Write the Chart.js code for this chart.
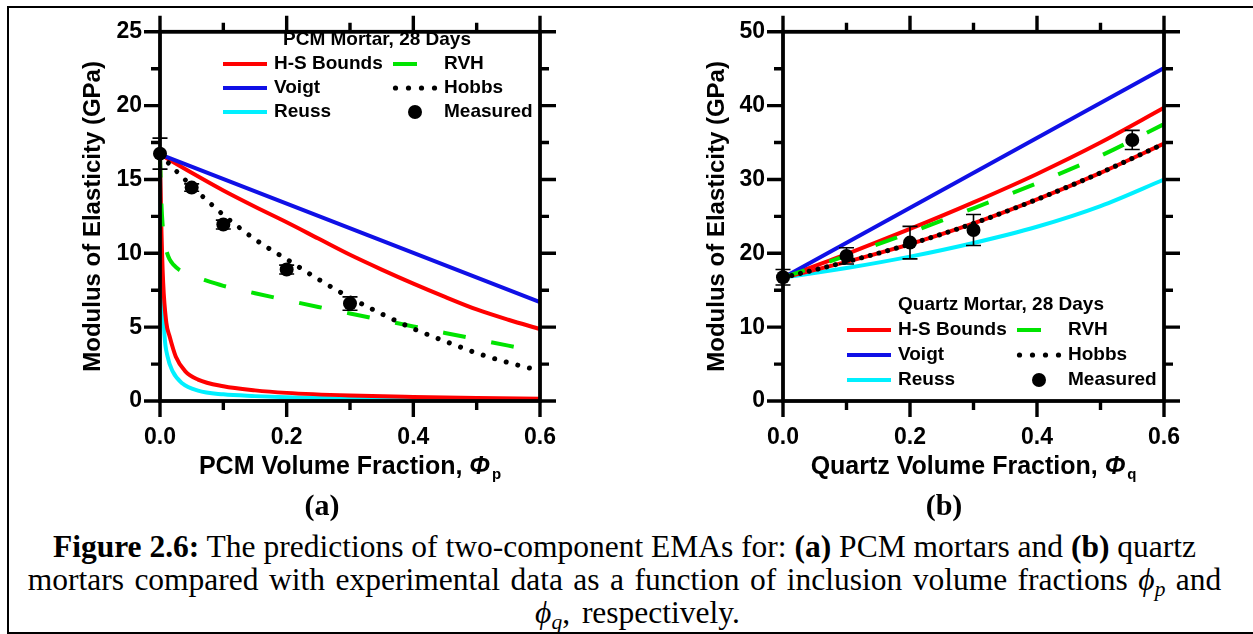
<!DOCTYPE html>
<html><head><meta charset="utf-8">
<script src="https://cdn.jsdelivr.net/npm/chart.js@4.4.1/dist/chart.umd.min.js"></script>
<style>
html,body{margin:0;padding:0;background:#fff;}
body{width:1253px;height:634px;position:relative;overflow:hidden;font-family:"Liberation Serif","Times New Roman",serif;color:#000;}
#frame{position:absolute;left:7px;top:6px;width:1260px;height:624px;border-left:2px solid #000;border-top:2px solid #000;border-bottom:2px solid #000;}
.wrap{position:absolute;top:0;height:490px;}
#wa{left:0;width:626px;}
#wb{left:626px;width:627px;}
.lab{position:absolute;width:100px;text-align:center;font-weight:bold;font-size:30px;line-height:34px;}
.cap{position:absolute;left:7px;width:1235px;text-align:center;font-size:31.5px;line-height:33px;white-space:nowrap;}
.cap sub{font-size:0.68em;vertical-align:-0.28em;line-height:0;}
</style>
</head><body>
<div id="frame"></div>
<div class="wrap" id="wa"><canvas id="ca"></canvas></div>
<div class="wrap" id="wb"><canvas id="cb"></canvas></div>
<div class="lab" style="left:272px;top:488px;">(a)</div>
<div class="lab" style="left:894px;top:488px;">(b)</div>
<div class="cap" style="top:530px;"><b>Figure 2.6:</b> The predictions of two-component EMAs for: <b>(a)</b> PCM mortars and <b>(b)</b> quartz</div>
<div class="cap" style="top:563px;word-spacing:2.6px;">mortars compared with experimental data as a function of inclusion volume fractions <i>ϕ<sub>p</sub></i> and</div>
<div class="cap" style="top:596px;left:20px;word-spacing:4px;"><i>ϕ<sub>q</sub></i>, respectively.</div>
<script>
// ---------------- DATA ----------------
const xTickVals = [0, 0.2, 0.4, 0.6];
const xMinorVals = [0, 0.1, 0.2, 0.3, 0.4, 0.5, 0.6];
const pcmYTickVals = [0, 5, 10, 15, 20, 25];
const pcmYMinorVals = [0, 2.5, 5, 7.5, 10, 12.5, 15, 17.5, 20, 22.5, 25];
const qtzYTickVals = [0, 10, 20, 30, 40, 50];
const qtzYMinorVals = [0, 5, 10, 15, 20, 25, 30, 35, 40, 45, 50];

// (a) PCM mortar
const pcmVoigtX = [0, 0.6];
const pcmVoigtY = [16.7, 6.7];
const pcmHsUpperX = [0, 0.05, 0.1, 0.15, 0.2, 0.25, 0.3, 0.35, 0.4, 0.45, 0.5, 0.55, 0.6];
const pcmHsUpperY = [16.7, 15.45, 14.25, 13.15, 12.1, 11.0, 9.9, 8.9, 7.95, 7.05, 6.2, 5.5, 4.87];
const pcmHsLowerX = [0, 0.002, 0.005, 0.01, 0.015, 0.025, 0.04, 0.06, 0.1, 0.15, 0.2, 0.3, 0.4, 0.5, 0.6];
const pcmHsLowerY = [16.7, 12.0, 8.0, 5.3, 4.4, 3.0, 2.0, 1.45, 1.0, 0.72, 0.55, 0.37, 0.27, 0.2, 0.16];
const pcmReussX = [0, 0.001, 0.002, 0.004, 0.007, 0.012, 0.02, 0.035, 0.06, 0.1, 0.15, 0.2, 0.3, 0.4, 0.5, 0.6];
const pcmReussY = [16.7, 12.8, 10.4, 7.5, 4.5, 3.0, 2.0, 1.2, 0.7, 0.45, 0.33, 0.25, 0.17, 0.14, 0.11, 0.09];
const pcmRvhX = [0, 0.001, 0.002, 0.004, 0.007, 0.01, 0.015, 0.022, 0.031, 0.05, 0.07, 0.1, 0.15, 0.2, 0.25, 0.3, 0.35, 0.4, 0.45, 0.5, 0.55, 0.6];
const pcmRvhY = [16.7, 15.0, 13.6, 12.0, 10.8, 10.2, 9.6, 9.2, 8.86, 8.5, 8.2, 7.8, 7.3, 6.83, 6.37, 5.93, 5.49, 5.05, 4.61, 4.18, 3.75, 3.33];
const pcmHobbsX = [0, 0.025, 0.05, 0.075, 0.1, 0.125, 0.15, 0.175, 0.2, 0.25, 0.3, 0.35, 0.4, 0.45, 0.5, 0.55, 0.6];
const pcmHobbsY = [16.7, 15.6, 14.55, 13.55, 12.6, 11.75, 10.95, 10.25, 9.6, 8.25, 7.0, 5.9, 4.9, 4.05, 3.25, 2.6, 2.05];
const pcmMeasX = [0, 0.05, 0.1, 0.2, 0.3];
const pcmMeasY = [16.75, 14.45, 11.95, 8.9, 6.6];
const pcmMeasErr = [1.05, 0.25, 0.3, 0.3, 0.45];

// (b) Quartz mortar
const qtzVoigtX = [0, 0.6];
const qtzVoigtY = [16.7, 45.1];
const qtzCurveX = [0, 0.1, 0.2, 0.3, 0.4, 0.5, 0.6];
const qtzHsUpperY = [16.7, 19.9, 23.3, 26.9, 30.75, 35.0, 39.7];
const qtzHsLowerY = [16.7, 18.85, 21.25, 24.05, 27.3, 30.9, 34.85];
const qtzReussY = [16.7, 18.0, 19.55, 21.4, 23.6, 26.4, 30.0];
const qtzRvhY = [16.7, 19.7, 22.8, 26.1, 29.5, 33.2, 37.5];
const qtzHobbsY = [16.7, 18.85, 21.25, 24.05, 27.3, 30.9, 34.85];
const qtzMeasX = [0, 0.1, 0.2, 0.3, 0.55];
const qtzMeasY = [16.75, 19.65, 21.45, 23.15, 35.35];
const qtzMeasErr = [1.05, 1.1, 2.2, 2.1, 1.3];

// ---------------- STYLE ----------------
const SANS = '"Liberation Sans", Arial, sans-serif';
const RED = '#ff0000', BLUE = '#1010e6', CYAN = '#00f0ff', GREEN = '#00e400', BLACK = '#000000';

const pts = (xs, ys) => xs.map((x, i) => ({x: x, y: ys[i]}));

function lineDs(label, xs, ys, color, order, extra) {
  return Object.assign({
    label: label, data: pts(xs, ys), showLine: true, borderColor: color, backgroundColor: color,
    borderWidth: 4, pointRadius: 0, pointHoverRadius: 0, fill: false,
    cubicInterpolationMode: 'monotone', order: order, clip: false
  }, extra || {});
}
function measDs(xs, ys, errs) {
  return {
    label: 'Measured', data: pts(xs, ys), errors: errs, showLine: false,
    pointRadius: 7, pointBackgroundColor: BLACK, pointBorderColor: BLACK, pointBorderWidth: 0,
    order: 0, clip: false
  };
}

// ---------------- PLUGINS ----------------
const frameTicks = {
  id: 'frameTicks',
  afterDraw(chart, args, o) {
    const {ctx, chartArea: a} = chart;
    const xs = chart.scales.x, ys = chart.scales.y;
    ctx.save();
    ctx.strokeStyle = BLACK;
    ctx.lineWidth = 3.8;
    ctx.strokeRect(a.left, a.top, a.right - a.left, a.bottom - a.top);
    ctx.lineWidth = 3.4;
    ctx.beginPath();
    o.xMinor.forEach(v => {
      const p = xs.getPixelForValue(v);
      const L = o.xMajor.includes(v) ? 16 : 9;
      ctx.moveTo(p, a.bottom); ctx.lineTo(p, a.bottom + L);
      ctx.moveTo(p, a.top); ctx.lineTo(p, a.top - L);
    });
    o.yMinor.forEach(v => {
      const p = ys.getPixelForValue(v);
      const L = o.yMajor.includes(v) ? 16 : 9;
      ctx.moveTo(a.left, p); ctx.lineTo(a.left - L, p);
      ctx.moveTo(a.right, p); ctx.lineTo(a.right + L, p);
    });
    ctx.stroke();
    ctx.restore();
  }
};

const errorBars = {
  id: 'errorBars',
  afterDatasetsDraw(chart) {
    const {ctx} = chart;
    const xs = chart.scales.x, ys = chart.scales.y;
    ctx.save();
    ctx.strokeStyle = BLACK;
    ctx.lineWidth = 1.6;
    chart.data.datasets.forEach(ds => {
      if (!ds.errors) return;
      ds.data.forEach((d, i) => {
        const e = ds.errors[i];
        const px = xs.getPixelForValue(d.x);
        const pt = ys.getPixelForValue(d.y + e), pb = ys.getPixelForValue(d.y - e);
        ctx.beginPath();
        ctx.moveTo(px, pt); ctx.lineTo(px, pb);
        ctx.moveTo(px - 7.5, pt); ctx.lineTo(px + 7.5, pt);
        ctx.moveTo(px - 7.5, pb); ctx.lineTo(px + 7.5, pb);
        ctx.stroke();
      });
    });
    ctx.restore();
  }
};

const boxLegend = {
  id: 'boxLegend',
  afterDraw(chart, args, o) {
    const {ctx} = chart;
    const x0 = o.x0, y0 = o.y0, dy = o.dy;
    ctx.save();
    ctx.fillStyle = BLACK;
    ctx.font = 'bold 19px ' + SANS;
    ctx.textBaseline = 'middle';
    ctx.textAlign = 'center';
    ctx.fillText(o.title, x0 + 154, y0 - dy);
    ctx.textAlign = 'left';
    o.items.forEach((it, i) => {
      const col = i % 2, row = Math.floor(i / 2);
      const y = y0 + row * dy;
      const sx = col === 0 ? x0 : x0 + 170;
      const tx = col === 0 ? x0 + 51 : x0 + 221;
      ctx.save();
      ctx.strokeStyle = it.color; ctx.fillStyle = it.color;
      if (it.kind === 'solid') {
        ctx.lineWidth = 4; ctx.beginPath(); ctx.moveTo(sx, y); ctx.lineTo(sx + 44, y); ctx.stroke();
      } else if (it.kind === 'dash') {
        ctx.lineWidth = 4; ctx.beginPath(); ctx.moveTo(sx, y); ctx.lineTo(sx + 24, y); ctx.stroke();
      } else if (it.kind === 'dots') {
        for (let k = 0; k < 4; k++) { ctx.beginPath(); ctx.arc(sx + 2.5 + k * 13, y, 2.6, 0, Math.PI * 2); ctx.fill(); }
      } else if (it.kind === 'marker') {
        ctx.beginPath(); ctx.arc(sx + 22, y, 7, 0, Math.PI * 2); ctx.fill();
      }
      ctx.restore();
      ctx.fillText(it.label, tx, y);
    });
    ctx.restore();
  }
};

const xTitle = {
  id: 'xTitle',
  afterDraw(chart, args, o) {
    const {ctx, chartArea: a} = chart;
    ctx.save();
    ctx.fillStyle = BLACK;
    ctx.textBaseline = 'middle';
    ctx.textAlign = 'left';
    const f1 = 'bold 25px ' + SANS, f2 = 'italic bold 25px ' + SANS, f3 = 'bold 15px ' + SANS;
    ctx.font = f1; const w1 = ctx.measureText(o.main).width;
    ctx.font = f2; const w2 = ctx.measureText(o.sym).width;
    ctx.font = f3; const w3 = ctx.measureText(o.sub).width;
    const total = w1 + w2 + 2 + w3;
    let x = (a.left + a.right) / 2 - total / 2;
    const y = a.bottom + o.dy;
    ctx.font = f1; ctx.fillText(o.main, x, y); x += w1;
    ctx.font = f2; ctx.fillText(o.sym, x, y); x += w2 + 2;
    ctx.font = f3; ctx.fillText(o.sub, x, y + 8);
    ctx.restore();
  }
};

function scalesFor(yMax, yTicks, yWidth, titlePad) {
  const tickFont = {family: SANS, size: 23, weight: 'bold'};
  return {
    x: {
      type: 'linear', min: 0, max: 0.6,
      afterBuildTicks: s => { s.ticks = xTickVals.map(v => ({value: v})); },
      ticks: {callback: v => Number(v).toFixed(1), font: tickFont, color: BLACK, padding: 23, maxRotation: 0, autoSkip: false},
      grid: {display: false, drawTicks: false}, border: {display: false},
      afterFit: s => { s.height = 89; }
    },
    y: {
      type: 'linear', min: 0, max: yMax,
      afterBuildTicks: s => { s.ticks = yTicks.map(v => ({value: v})); },
      ticks: {font: tickFont, color: BLACK, padding: 18, autoSkip: false},
      grid: {display: false, drawTicks: false}, border: {display: false},
      title: {display: true, text: 'Modulus of Elasticity (GPa)', color: BLACK,
              font: {family: SANS, size: 24, weight: 'bold'}, padding: {top: titlePad, bottom: 0}},
      afterFit: s => { s.width = yWidth; }
    }
  };
}

function legendItems(hsC, vC, rC, gC, bC) {
  return [
    {label: 'H-S Bounds', kind: 'solid', color: hsC},
    {label: 'RVH', kind: 'dash', color: gC},
    {label: 'Voigt', kind: 'solid', color: vC},
    {label: 'Hobbs', kind: 'dots', color: bC},
    {label: 'Reuss', kind: 'solid', color: rC},
    {label: 'Measured', kind: 'marker', color: BLACK}
  ];
}

Chart.defaults.font.family = SANS;

new Chart(document.getElementById('ca'), {
  type: 'scatter',
  data: {datasets: [
    measDs(pcmMeasX, pcmMeasY, pcmMeasErr),
    lineDs('Hobbs', pcmHobbsX, pcmHobbsY, BLACK, 1, {borderWidth: 5, borderDash: [0.01, 12], borderCapStyle: 'round'}),
    lineDs('RVH', pcmRvhX, pcmRvhY, GREEN, 2, {borderDash: [23, 26]}),
    lineDs('Voigt', pcmVoigtX, pcmVoigtY, BLUE, 3),
    lineDs('H-S Bounds', pcmHsUpperX, pcmHsUpperY, RED, 4),
    lineDs('H-S Bounds (lower)', pcmHsLowerX, pcmHsLowerY, RED, 5),
    lineDs('Reuss', pcmReussX, pcmReussY, CYAN, 6)
  ]},
  options: {
    responsive: true, maintainAspectRatio: false, animation: false, events: [],
    layout: {padding: {left: 0, top: 23, right: 86, bottom: 0}},
    scales: scalesFor(25, pcmYTickVals, 160, 79),
    plugins: {
      legend: {display: false}, tooltip: {enabled: false},
      frameTicks: {xMajor: xTickVals, xMinor: xMinorVals, yMajor: pcmYTickVals, yMinor: pcmYMinorVals},
      boxLegend: {x0: 223, y0: 64, dy: 24, title: 'PCM Mortar, 28 Days', items: legendItems(RED, BLUE, CYAN, GREEN, BLACK)},
      xTitle: {main: 'PCM Volume Fraction, ', sym: 'Φ', sub: 'p', dy: 66}
    }
  },
  plugins: [frameTicks, errorBars, boxLegend, xTitle]
});

new Chart(document.getElementById('cb'), {
  type: 'scatter',
  data: {datasets: [
    measDs(qtzMeasX, qtzMeasY, qtzMeasErr),
    lineDs('Hobbs', qtzCurveX, qtzHobbsY, BLACK, 1, {borderWidth: 5, borderDash: [0.01, 9], borderCapStyle: 'round'}),
    lineDs('RVH', qtzCurveX, qtzRvhY, GREEN, 2, {borderDash: [23, 26]}),
    lineDs('Voigt', qtzVoigtX, qtzVoigtY, BLUE, 3),
    lineDs('H-S Bounds', qtzCurveX, qtzHsUpperY, RED, 4),
    lineDs('H-S Bounds (lower)', qtzCurveX, qtzHsLowerY, RED, 5),
    lineDs('Reuss', qtzCurveX, qtzReussY, CYAN, 6)
  ]},
  options: {
    responsive: true, maintainAspectRatio: false, animation: false, events: [],
    layout: {padding: {left: 0, top: 23, right: 89, bottom: 0}},
    scales: scalesFor(50, qtzYTickVals, 157, 77),
    plugins: {
      legend: {display: false}, tooltip: {enabled: false},
      frameTicks: {xMajor: xTickVals, xMinor: xMinorVals, yMajor: qtzYTickVals, yMinor: qtzYMinorVals},
      boxLegend: {x0: 847 - 626, y0: 330, dy: 25, title: 'Quartz Mortar, 28 Days', items: legendItems(RED, BLUE, CYAN, GREEN, BLACK)},
      xTitle: {main: 'Quartz Volume Fraction, ', sym: 'Φ', sub: 'q', dy: 66}
    }
  },
  plugins: [frameTicks, errorBars, boxLegend, xTitle]
});
</script>
</body></html>
